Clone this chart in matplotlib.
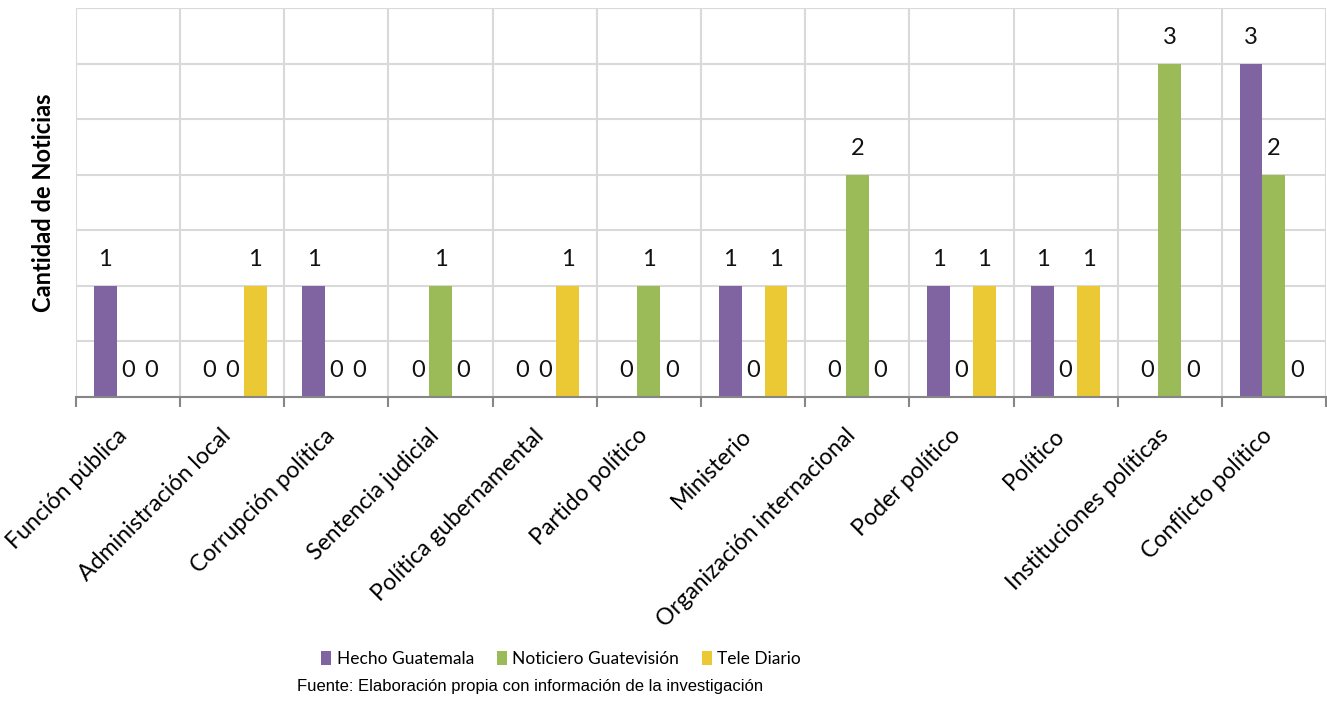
import matplotlib.pyplot as plt
import matplotlib.transforms as mtransforms
import numpy as np

categories = ['Función pública', 'Administración local', 'Corrupción política',
              'Sentencia judicial', 'Política gubernamental', 'Partido político',
              'Ministerio', 'Organización internacional', 'Poder político',
              'Político', 'Instituciones políticas', 'Conflicto político']
hecho = [1, 0, 1, 0, 0, 0, 1, 0, 1, 1, 0, 3]
guatevision = [0, 0, 0, 1, 0, 1, 0, 2, 0, 0, 3, 2]
tele_diario = [0, 1, 0, 0, 1, 0, 1, 0, 1, 1, 0, 0]
series_names = ['Hecho Guatemala', 'Noticiero Guatevisión', 'Tele Diario']
colors = ['#8064A2', '#9BBB59', '#EBC934']

fig = plt.figure(figsize=(13.27, 7.04), dpi=100)
ax = fig.add_axes([76 / 1327, 1 - 397 / 704, 1250 / 1327, 389 / 704])

x = np.arange(len(categories))
w = 0.22
handles = []
for i, (vals, name, c) in enumerate(zip([hecho, guatevision, tele_diario], series_names, colors)):
    pos = x + (i - 1) * w
    b = ax.bar(pos, vals, width=w, color=c, label=name, zorder=3)
    handles.append(b)
    for p, v in zip(pos, vals):
        ax.annotate(str(v), (p, v), xytext=(0, 19), textcoords='offset points',
                    ha='center', va='center', fontsize=17, family='Lato', color='#111111')

ax.set_xlim(-0.5, len(categories) - 0.5)
ax.set_ylim(0, 3.5)
ax.set_yticks(np.arange(0, 3.51, 0.5))
ax.tick_params(axis='y', left=False, labelleft=False)
ax.yaxis.grid(True, color='#D9D9D9', linewidth=1.5, zorder=0)

# category boundaries as ticks + vertical grid
bounds = np.arange(-0.5, len(categories), 1.0)
ax.set_xticks(bounds)
ax.set_xticklabels([])
ax.tick_params(axis='x', which='major', direction='out', length=7, width=1.5, color='#868686')
ax.xaxis.grid(True, which='major', color='#D9D9D9', linewidth=1.5, zorder=0)
ax.set_xticks(x, minor=True)
ax.set_xticklabels(categories, minor=True, rotation=45, ha='right', rotation_mode='anchor',
                   fontsize=16.7, family='Lato')
ax.tick_params(axis='x', which='minor', length=0, pad=20)
shift = mtransforms.ScaledTranslation(-12 / 100, 0, fig.dpi_scale_trans)
for lbl in ax.get_xticklabels(minor=True):
    lbl.set_transform(lbl.get_transform() + shift)

for s in ['top', 'right', 'left']:
    ax.spines[s].set_visible(False)
ax.spines['bottom'].set_color('#868686')
ax.spines['bottom'].set_linewidth(1.5)
ax.spines['bottom'].set_zorder(4)

ax.set_ylabel('Cantidad de Noticias', fontsize=17, fontweight='bold', family='Lato', labelpad=15)

fig.legend(handles=handles, labels=series_names, loc='center', bbox_to_anchor=(561 / 1327, 1 - 659 / 704),
           ncol=3, frameon=False, prop={'family': 'Lato', 'size': 12.5},
           handlelength=0.6, handleheight=0.8, handletextpad=0.3, columnspacing=1.3)

fig.text(530 / 1327, 1 - 687 / 704, 'Fuente: Elaboración propia con información de la investigación',
         ha='center', va='center', fontsize=12, family='Liberation Sans')

fig.savefig('out.png', dpi=100)
